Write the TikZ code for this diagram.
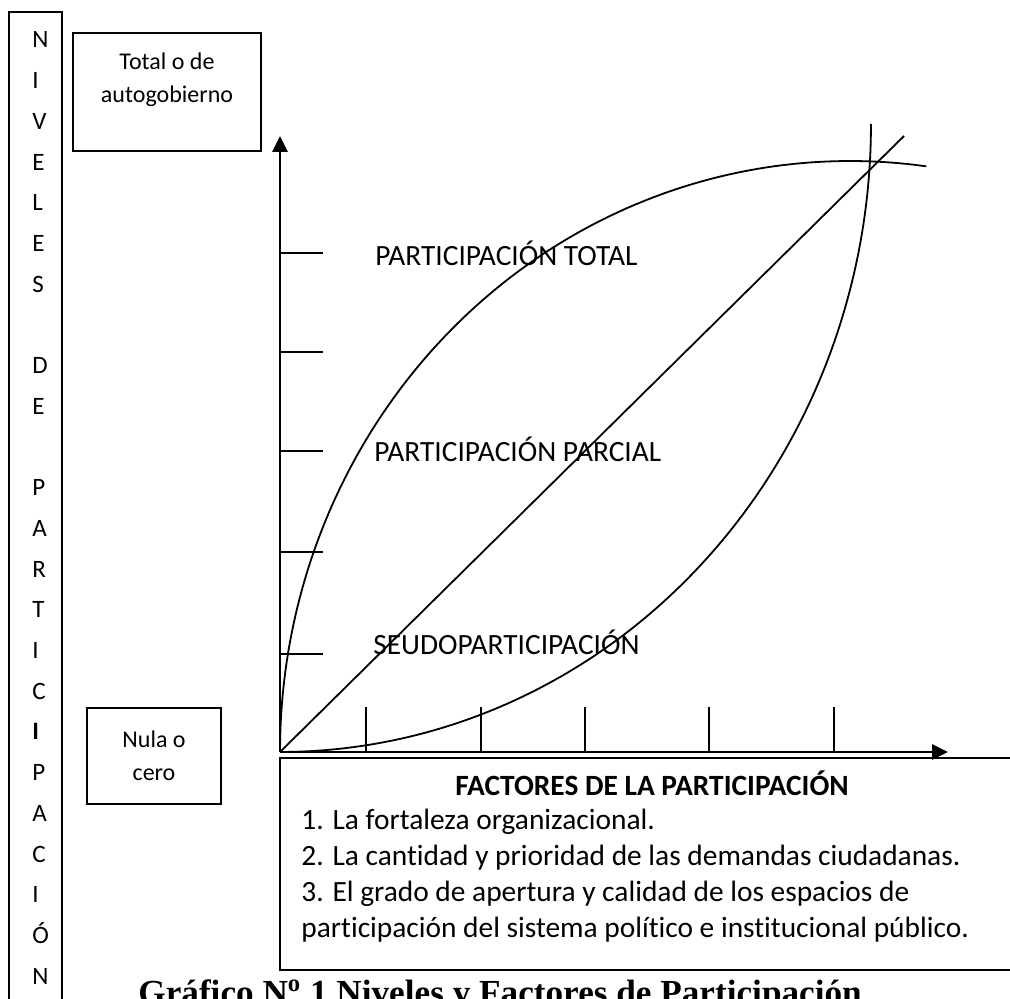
\documentclass[tikz,border=0pt]{standalone}
\usepackage{fontspec}
\setmainfont{Carlito}[Ligatures=NoCommon]
\newfontfamily\capfont{Liberation Serif}[Ligatures=NoCommon]
\usetikzlibrary{arrows.meta, positioning}
\tikzset{box/.style={draw=black, line width=1pt, inner sep=0pt},
        axis/.style={line width=1.4pt, -{Triangle[length=8pt, width=7.5pt]}},
        tickline/.style={line width=0.9pt},
        arcline/.style={line width=0.9pt},
        big/.style={font=\fontsize{14.7}{18}\selectfont, inner sep=0pt, anchor=base west},
        small/.style={font=\fontsize{12}{16.5}\selectfont, align=center, inner sep=0pt},
        letter/.style={font=\fontsize{12.5}{15}\selectfont, inner sep=0pt, anchor=base west}}

\begin{document}
\begin{tikzpicture}[x=0.5pt, y=-0.5pt]
  \useasboundingbox (0,0) rectangle (1010,999);

  % vertical title
  \draw[box] (9,1010) |- (62,12) -- (62,1010);
  \foreach \l/\k in {N/1, I/2, V/3, E/4, L/5, E/6, S/7, D/9, E/10, P/12, A/13, R/14, T/15, I/16, C/17, \textbf{I}/18, P/19, A/20, C/21, I/22, Ó/23, N/24}
    \node[letter] (v\k) at (32, {48+40.7*(\k-1)}) {\l};

  % level boxes
  \node[box, minimum width=94pt, minimum height=59pt] (total) at (167,92) {};
  \node[small] (totaltxt) at (167,80) {Total o de\\autogobierno};
  \node[box, small, minimum width=67pt, minimum height=48pt] (nula) at (154,756) {Nula o\\cero};

  % axes
  \coordinate (o) at (280,752);
  \coordinate (ytip) at (280,136);
  \coordinate (xtip) at (948,752);
  \draw[axis] (o) -- (ytip);
  \draw[axis] (o) -- (xtip);

  % ticks
  \foreach \y in {253,352,451,552,654}
    \draw[tickline] (280,\y) -- (323,\y);
  \foreach \x in {366,481,585,709,834}
    \draw[tickline] (\x,752) -- (\x,707);

  % curves and diagonal
  \coordinate (dend) at (904,136);
  \draw[arcline] (o) -- (dend);
  \draw[arcline, smooth, samples=60, domain=180:277.7, variable=\t]
    plot ({850+570*cos(\t)}, {752+591*sin(\t)});
  \draw[arcline, smooth, samples=60, domain=90:0, variable=\t]
    plot ({280+591*cos(\t)}, {124+628*sin(\t)});

  % level labels
  \node[big] (ptotal) at (375,266) {PARTICIPACIÓN TOTAL};
  \node[big] (pparcial) at (374,461) {PARTICIPACIÓN PARCIAL};
  \node[big] (pseudo) at (373,654) {SEUDOPARTICIPACIÓN};

  % factors
  \node[box, anchor=north west, minimum width=380pt, minimum height=106pt] (fact) at (279,757) {};
  \node[big, anchor=base, font=\bfseries\fontsize{14.7}{18}\selectfont] (facttitle) at (652,795) {FACTORES DE LA PARTICIPACIÓN};
  \foreach \t [count=\k] in {{1. La fortaleza organizacional.}, {2. La cantidad y prioridad de las demandas ciudadanas.}, {3. El grado de apertura y calidad de los espacios de}, {participación del sistema político e institucional público.}}
    \node[big] (item\k) at (301, {829+36*(\k-1)}) {\t};

  % caption
  \node[anchor=base west, inner sep=0pt, font=\capfont\bfseries\fontsize{17.6}{20}\selectfont] (caption) at (138,1004) {Gráfico N\textsuperscript{o} 1 Niveles y Factores de Participación};
\end{tikzpicture}
\end{document}
